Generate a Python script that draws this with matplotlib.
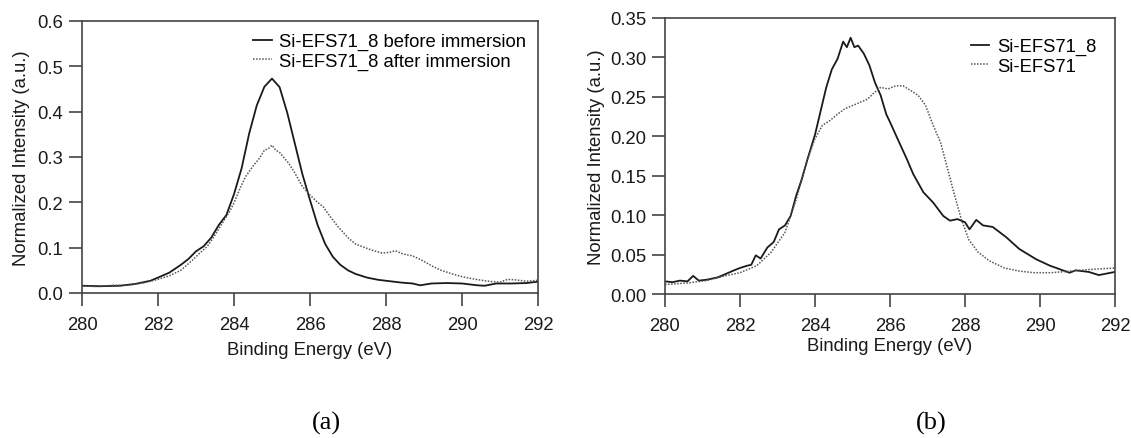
import matplotlib
matplotlib.use("Agg")
import matplotlib.pyplot as plt

# ========== Data ==========
# (a) before / after immersion
energy_a_before = [280.0, 280.5, 281.0, 281.4, 281.8, 282.0, 282.3, 282.6, 282.8, 283.0,
                   283.2, 283.4, 283.6, 283.8, 284.0, 284.2, 284.4, 284.6, 284.8, 285.0,
                   285.2, 285.4, 285.6, 285.8, 286.0, 286.2, 286.4, 286.6, 286.8, 287.0,
                   287.2, 287.5, 287.8, 288.0, 288.4, 288.7, 288.9, 289.2, 289.6, 290.0,
                   290.4, 290.6, 290.9, 291.3, 291.7, 292.0]
intensity_a_before = [0.016, 0.015, 0.016, 0.020, 0.027, 0.034, 0.045, 0.062, 0.075, 0.092,
                      0.103, 0.122, 0.150, 0.172, 0.218, 0.275, 0.352, 0.414, 0.455, 0.473,
                      0.454, 0.398, 0.330, 0.262, 0.205, 0.150, 0.108, 0.080, 0.062, 0.050,
                      0.042, 0.034, 0.029, 0.027, 0.023, 0.021, 0.017, 0.021, 0.022, 0.021,
                      0.017, 0.016, 0.021, 0.021, 0.022, 0.025]

energy_a_after = [280.0, 280.4, 280.8, 281.2, 281.6, 282.0, 282.3, 282.6, 282.9, 283.1,
                  283.3, 283.5, 283.7, 283.9, 284.0, 284.15, 284.3, 284.5, 284.65, 284.8,
                  284.9, 285.0, 285.1, 285.2, 285.3, 285.45, 285.6, 285.8, 286.0, 286.2,
                  286.35, 286.5, 286.75, 287.0, 287.2, 287.45, 287.65, 287.9, 288.1, 288.25,
                  288.45, 288.7, 288.95, 289.2, 289.45, 289.75, 290.0, 290.3, 290.6, 290.8,
                  291.0, 291.2, 291.4, 291.7, 292.0]
intensity_a_after = [0.016, 0.014, 0.017, 0.017, 0.022, 0.030, 0.038, 0.050, 0.072, 0.088,
                     0.103, 0.128, 0.155, 0.182, 0.199, 0.229, 0.256, 0.280, 0.295, 0.315,
                     0.318, 0.326, 0.315, 0.310, 0.300, 0.285, 0.265, 0.235, 0.216, 0.200,
                     0.190, 0.172, 0.145, 0.122, 0.108, 0.100, 0.094, 0.088, 0.090, 0.093,
                     0.086, 0.082, 0.072, 0.060, 0.050, 0.042, 0.036, 0.031, 0.027, 0.025,
                     0.024, 0.030, 0.029, 0.026, 0.028]

# (b) Si-EFS71_8 vs Si-EFS71
energy_b_efs71_8 = [280.0, 280.2, 280.4, 280.6, 280.75, 280.9, 281.1, 281.4, 281.6, 281.84,
                    282.0, 282.2, 282.3, 282.42, 282.55, 282.73, 282.9, 283.04, 283.2, 283.35,
                    283.5, 283.65, 283.8, 284.0, 284.15, 284.3, 284.45, 284.6, 284.75, 284.85,
                    284.95, 285.05, 285.15, 285.3, 285.45, 285.6, 285.75, 285.9, 286.0, 286.2,
                    286.45, 286.62, 286.89, 287.15, 287.42, 287.6, 287.8, 288.0, 288.12, 288.3,
                    288.48, 288.74, 289.1, 289.45, 289.9, 290.26, 290.61, 290.79, 290.95, 291.3,
                    291.57, 292.0]
intensity_b_efs71_8 = [0.016, 0.015, 0.017, 0.016, 0.023, 0.017, 0.018, 0.021, 0.025, 0.030,
                       0.033, 0.036, 0.037, 0.049, 0.045, 0.059, 0.066, 0.082, 0.087, 0.099,
                       0.125, 0.146, 0.171, 0.202, 0.232, 0.262, 0.285, 0.298, 0.320, 0.313,
                       0.325, 0.313, 0.315, 0.305, 0.290, 0.268, 0.252, 0.228, 0.218, 0.197,
                       0.171, 0.152, 0.129, 0.116, 0.099, 0.093, 0.095, 0.091, 0.082, 0.094,
                       0.087, 0.085, 0.072, 0.057, 0.044, 0.036, 0.030, 0.027, 0.030, 0.028,
                       0.024, 0.028]

energy_b_efs71 = [280.0, 280.6, 281.1, 281.6, 282.0, 282.45, 282.83, 283.2, 283.5, 283.8,
                  284.0, 284.2, 284.4, 284.6, 284.8, 285.0, 285.2, 285.4, 285.55, 285.75,
                  285.95, 286.15, 286.35, 286.55, 286.75, 286.95, 287.15, 287.35, 287.5, 287.7,
                  287.9, 288.1, 288.35, 288.65, 289.05, 289.45, 289.85, 290.3, 290.8, 291.3,
                  292.0]
intensity_b_efs71 = [0.012, 0.014, 0.017, 0.023, 0.027, 0.036, 0.053, 0.078, 0.120, 0.171,
                     0.197, 0.214, 0.220, 0.228, 0.235, 0.239, 0.243, 0.247, 0.254, 0.262,
                     0.260, 0.264, 0.264, 0.258, 0.252, 0.239, 0.214, 0.192, 0.165, 0.129,
                     0.095, 0.069, 0.053, 0.042, 0.033, 0.029, 0.027, 0.027, 0.029, 0.031,
                     0.033]

x_ticks = [280, 282, 284, 286, 288, 290, 292]
y_ticks_a = [0.0, 0.1, 0.2, 0.3, 0.4, 0.5, 0.6]
y_ticks_b = [0.00, 0.05, 0.10, 0.15, 0.20, 0.25, 0.30, 0.35]

# ========== Style ==========
plt.rcParams['font.family'] = ['Liberation Sans', 'DejaVu Sans']
FS = 13.3
solid_kw = dict(color='#1a1a1a', lw=1.3)
dotted_kw = dict(color='#555555', lw=1.1, linestyle=(0, (1, 1)))
spine_color = '#444444'

fig = plt.figure(figsize=(11.31, 4.39), dpi=100)
ax_a = fig.add_axes([82 / 1131, 145 / 439, 456 / 1131, 272 / 439])
ax_b = fig.add_axes([665 / 1131, 144 / 439, 450 / 1131, 276 / 439])


def style_axes(ax, yticks, fmt):
    ax.set_xlim(280, 292)
    ax.set_ylim(yticks[0], yticks[-1])
    ax.set_xticks(x_ticks)
    ax.set_yticks(yticks)
    ax.set_yticklabels([fmt.format(v) for v in yticks])
    for sp in ax.spines.values():
        sp.set_color(spine_color)
        sp.set_linewidth(1.2)
    ax.tick_params(direction='out', length=9.5, width=1.2, color=spine_color,
                   labelsize=FS, labelcolor='#1a1a1a')
    ax.tick_params(axis='x', pad=7)
    ax.tick_params(axis='y', pad=4)
    ax.set_xlabel('Binding Energy (eV)', fontsize=FS, color='#1a1a1a')
    ax.set_ylabel('Normalized Intensity (a.u.)', fontsize=FS, color='#1a1a1a')


# === Panel (a) ===
ax_a.plot(energy_a_before, intensity_a_before, label='Si-EFS71_8 before immersion', **solid_kw)
ax_a.plot(energy_a_after, intensity_a_after, label='Si-EFS71_8 after immersion', **dotted_kw)
style_axes(ax_a, y_ticks_a, '{:.1f}')
ax_a.xaxis.set_label_coords(0.5, -0.175)
ax_a.yaxis.set_label_coords(-0.115, 0.5)
ax_a.legend(loc='upper right', frameon=False, fontsize=FS, handlelength=1.0,
            handletextpad=0.4, labelspacing=0.12, borderaxespad=0.25,
            bbox_to_anchor=(1.0, 1.0))

# === Panel (b) ===
ax_b.plot(energy_b_efs71_8, intensity_b_efs71_8, label='Si-EFS71_8', **solid_kw)
ax_b.plot(energy_b_efs71, intensity_b_efs71, label='Si-EFS71', **dotted_kw)
style_axes(ax_b, y_ticks_b, '{:.2f}')
ax_b.xaxis.set_label_coords(0.5, -0.155)
ax_b.yaxis.set_label_coords(-0.134, 0.5)
ax_b.legend(loc='upper right', frameon=False, fontsize=FS, handlelength=1.0,
            handletextpad=0.4, labelspacing=0.12, borderaxespad=0.25,
            bbox_to_anchor=(0.985, 0.97))

# === Panel captions ===
fig.text(326 / 1131, 1 - 423 / 439, '(a)', ha='center', va='center',
         fontsize=19, family='Liberation Serif')
fig.text(931 / 1131, 1 - 423 / 439, '(b)', ha='center', va='center',
         fontsize=19, family='Liberation Serif')

fig.savefig('out.png', dpi=100, facecolor='white')
